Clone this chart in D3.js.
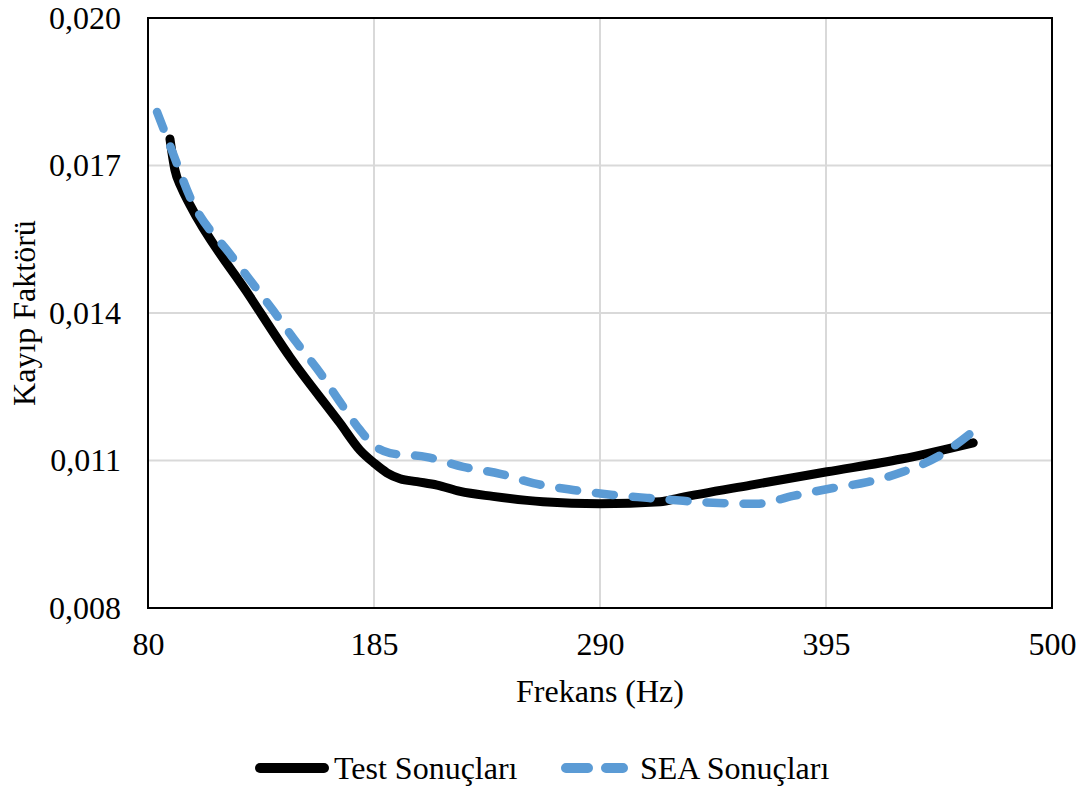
<!DOCTYPE html>
<html>
<head>
<meta charset="utf-8">
<script src="https://cdn.jsdelivr.net/npm/d3@7"></script>
<style>
  body { margin: 0; background: #fff; }
</style>
</head>
<body>
<svg id="chart" width="1092" height="792" font-family="Liberation Serif"></svg>
<script>
// Data
const testFreq = [90.2, 92.5, 95.5, 99.5, 127.4, 146, 169.2, 178.5, 185, 191, 197.1, 205, 214.3, 225, 240.3, 263.5, 290, 318, 327, 360, 395.5, 430, 463.4];
const testLoss = [0.01754, 0.01691, 0.01655, 0.0162, 0.01433, 0.0131, 0.01176, 0.01121, 0.01095, 0.01075, 0.01063, 0.01057, 0.0105, 0.01037, 0.01027, 0.01016, 0.01012, 0.01016, 0.01024, 0.0105, 0.01077, 0.01103, 0.01136];

const seaFreq = [84.2, 91.6, 99.5, 118.1, 127.4, 138, 149.2, 160, 169.2, 178.5, 184.6, 192.5, 209.6, 226.4, 243.6, 258.9, 277.5, 296, 311.9, 328.6, 342.5, 363, 379.7, 398.3, 414.1, 430.8, 446.6, 465];
const seaLoss = [0.01809, 0.01725, 0.01636, 0.0152, 0.01467, 0.01406, 0.01339, 0.01278, 0.01219, 0.01162, 0.01132, 0.01115, 0.01107, 0.01087, 0.01073, 0.01054, 0.0104, 0.0103, 0.01024, 0.01018, 0.01014, 0.01012, 0.01028, 0.01044, 0.01056, 0.01077, 0.01107, 0.01165];

const xTicks = [80, 185, 290, 395, 500];
const yTicks = [0.008, 0.011, 0.014, 0.017, 0.020];
const seriesNames = ["Test Sonuçları", "SEA Sonuçları"];
const xTitle = "Frekans (Hz)";
const yTitle = "Kayıp Faktörü";

const FONT = "Liberation Serif";
const FS = 32;
const svg = d3.select("#chart");
const pL = 148, pR = 1052, pT = 18, pB = 608;

const x = d3.scaleLinear().domain([80, 500]).range([pL, pR]);
const y = d3.scaleLinear().domain([0.008, 0.020]).range([pB, pT]);

// Gridlines
svg.append("g").selectAll("line").data(yTicks).join("line")
  .attr("x1", pL).attr("x2", pR)
  .attr("y1", d => y(d)).attr("y2", d => y(d))
  .attr("stroke", "#d9d9d9").attr("stroke-width", 2);
svg.append("g").selectAll("line").data(xTicks).join("line")
  .attr("y1", pT).attr("y2", pB)
  .attr("x1", d => x(d)).attr("x2", d => x(d))
  .attr("stroke", "#d9d9d9").attr("stroke-width", 2);

// Axes (labels only)
const fmt = d => d3.format(".3f")(d).replace(".", ",");
const yAxis = d3.axisLeft(y).tickValues(yTicks).tickFormat(fmt).tickSize(0).tickPadding(27);
const gy = svg.append("g").attr("transform", `translate(${pL},0)`).call(yAxis)
  .attr("font-family", FONT).attr("font-size", FS);
gy.select(".domain").remove();
gy.selectAll("text").attr("font-family", FONT).attr("font-size", FS).attr("fill", "#000");

const xAxis = d3.axisBottom(x).tickValues(xTicks).tickFormat(d3.format("d")).tickSize(0).tickPadding(24);
const gx = svg.append("g").attr("transform", `translate(0,${pB})`).call(xAxis)
  .attr("font-family", FONT).attr("font-size", FS);
gx.select(".domain").remove();
gx.selectAll("text").attr("font-family", FONT).attr("font-size", FS).attr("fill", "#000");

// Plot border
svg.append("rect").attr("x", pL).attr("y", pT).attr("width", pR - pL).attr("height", pB - pT)
  .attr("fill", "none").attr("stroke", "#000").attr("stroke-width", 2);

// Lines
const line = d3.line().curve(d3.curveMonotoneX);
const testPts = testFreq.map((f, i) => [x(f), y(testLoss[i])]);
const seaPts = seaFreq.map((f, i) => [x(f), y(seaLoss[i])]);

svg.append("path").attr("d", line(testPts))
  .attr("fill", "none").attr("stroke", "#000").attr("stroke-width", 9)
  .attr("stroke-linecap", "round").attr("stroke-linejoin", "round");
svg.append("path").attr("d", line(seaPts))
  .attr("fill", "none").attr("stroke", "#5b9bd5").attr("stroke-width", 8.5)
  .attr("stroke-dasharray", "18,19").attr("stroke-linecap", "round").attr("stroke-linejoin", "round");

// Axis titles
svg.append("text").attr("x", (pL + pR) / 2).attr("y", 702)
  .attr("text-anchor", "middle").attr("font-family", FONT).attr("font-size", FS).text(xTitle);
svg.append("text").attr("transform", `translate(35,${(pT + pB) / 2}) rotate(-90)`)
  .attr("text-anchor", "middle").attr("font-family", FONT).attr("font-size", FS).text(yTitle);

// Legend
const ly = 768;
svg.append("line").attr("x1", 260).attr("x2", 324).attr("y1", ly).attr("y2", ly)
  .attr("stroke", "#000").attr("stroke-width", 10).attr("stroke-linecap", "round");
svg.append("text").attr("x", 334).attr("y", ly + 11).attr("font-family", FONT).attr("font-size", FS).text(seriesNames[0]);
svg.append("line").attr("x1", 566).attr("x2", 623).attr("y1", ly).attr("y2", ly)
  .attr("stroke", "#5b9bd5").attr("stroke-width", 10).attr("stroke-linecap", "round")
  .attr("stroke-dasharray", "22,18");
svg.append("text").attr("x", 640).attr("y", ly + 11).attr("font-family", FONT).attr("font-size", FS).text(seriesNames[1]);
</script>
</body>
</html>
